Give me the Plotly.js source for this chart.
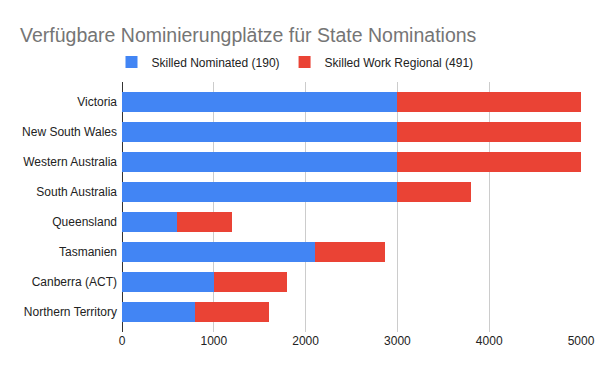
<!DOCTYPE html>
<html>
<head>
<meta charset="utf-8">
<script src="https://cdn.plot.ly/plotly-3.0.1.min.js"></script>
<style>html,body{margin:0;padding:0;background:#fff;}#chart{width:600px;height:371px;}</style>
</head>
<body>
<div id="chart"></div>
<script>
const states = ["Victoria", "New South Wales", "Western Australia", "South Australia", "Queensland", "Tasmanien", "Canberra (ACT)", "Northern Territory"];
const skilledNominated = [3000, 3000, 3000, 3000, 600, 2100, 1000, 800];
const skilledWorkRegional = [2000, 2000, 2000, 800, 600, 760, 800, 800];
const seriesNames = ["Skilled Nominated (190)", "Skilled Work Regional (491)"];
const xTicks = [0, 1000, 2000, 3000, 4000, 5000];

const fontFam = "'Liberation Sans', Arial, sans-serif";
const traces = [
  {type: "bar", orientation: "h", y: states, x: skilledNominated, name: seriesNames[0],
   marker: {color: "#4285F4"}, hoverinfo: "x+y+name"},
  {type: "bar", orientation: "h", y: states, x: skilledWorkRegional, name: seriesNames[1],
   marker: {color: "#EA4335"}, hoverinfo: "x+y+name"}
];
const layout = {
  width: 600, height: 371,
  margin: {l: 122, r: 19, t: 82, b: 39, pad: 0},
  paper_bgcolor: "#fff", plot_bgcolor: "#fff",
  barmode: "stack", bargap: 1/3,
  font: {family: fontFam, size: 12, color: "#222"},
  title: {text: "Verfügbare Nominierungplätze für State Nominations",
          font: {family: fontFam, size: 19.5, color: "#757575"},
          x: 20/600, xanchor: "left", xref: "container",
          y: 1 - 35/371, yanchor: "middle", yref: "container"},
  legend: {orientation: "h", x: 0.5 - 5/600, xref: "container", xanchor: "center",
           y: 1 - 62/371, yref: "container", yanchor: "middle",
           font: {family: fontFam, size: 12, color: "#222"}, traceorder: "normal"},
  xaxis: {range: [0, 5000], tickvals: xTicks, ticktext: xTicks.map(String),
          showgrid: true, gridcolor: "#cccccc", gridwidth: 1,
          zeroline: true, zerolinecolor: "#333", zerolinewidth: 1,
          showline: false, ticks: "", fixedrange: true,
          tickfont: {family: fontFam, size: 12, color: "#222"}},
  yaxis: {type: "category", categoryorder: "array", categoryarray: states,
          range: [7.67, -0.67], showgrid: false, zeroline: false, showline: false,
          ticks: "", ticklabelstandoff: 4,
          tickfont: {family: fontFam, size: 12, color: "#222"}, fixedrange: true},
  showlegend: true
};
Plotly.newPlot("chart", traces, layout, {displayModeBar: false, staticPlot: true});
</script>
</body>
</html>
